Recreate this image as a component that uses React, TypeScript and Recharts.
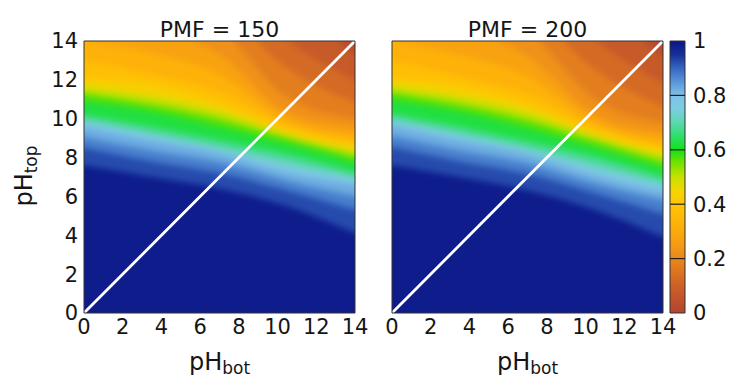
import React from 'react';
import {
  ComposedChart,
  Area,
  Line,
  XAxis,
  YAxis,
  BarChart,
  Bar,
  ReferenceLine,
} from 'recharts';

// pH_bot sample columns of the maps
const pHBot = [0, 3.5, 7, 10.5, 14];
const pHTicks = [0, 2, 4, 6, 8, 10, 12, 14];

// fraction levels whose iso-lines are traced
const fractionLevels = [
  0.05, 0.1, 0.15, 0.2, 0.25, 0.3, 0.35, 0.4, 0.45, 0.5,
  0.55, 0.6, 0.65, 0.7, 0.75, 0.8, 0.85, 0.9, 0.95,
];

// pH_top where the fraction falls to each level (row = level, column = pH_bot sample)
const contoursPMF150 = [
  [21.0, 20.0, 18.0, 15.8, 13.3],
  [19.5, 18.5, 16.8, 14.0, 11.95],
  [18.0, 17.0, 15.6, 12.6, 10.8],
  [16.8, 15.8, 14.6, 11.1, 10.0],
  [15.4, 14.6, 13.3, 10.3, 9.55],
  [14.0, 13.4, 12.3, 9.95, 9.2],
  [13.0, 12.3, 11.4, 9.7, 8.85],
  [12.1, 11.8, 10.8, 9.45, 8.65],
  [11.75, 11.25, 10.5, 9.25, 8.4],
  [11.45, 10.95, 10.2, 9.1, 8.2],
  [11.25, 10.65, 9.9, 8.95, 8.0],
  [10.9, 10.35, 9.55, 8.7, 7.75],
  [10.2, 9.6, 8.9, 8.2, 7.25],
  [10.0, 9.3, 8.6, 7.85, 7.05],
  [9.8, 9.1, 8.4, 7.55, 6.85],
  [9.55, 8.85, 8.2, 7.2, 6.6],
  [9.05, 8.35, 7.75, 6.8, 6.0],
  [8.5, 7.8, 7.2, 6.3, 5.3],
  [7.6, 7.0, 6.4, 5.5, 4.1],
];

const contoursPMF200 = [
  [21.0, 20.0, 18.0, 15.8, 13.2],
  [19.5, 18.5, 16.8, 14.0, 11.8],
  [18.0, 17.0, 15.6, 12.5, 10.6],
  [16.8, 15.8, 14.5, 11.0, 9.8],
  [15.4, 14.6, 13.2, 10.2, 9.3],
  [14.0, 13.3, 12.2, 9.85, 8.95],
  [13.0, 12.2, 11.3, 9.6, 8.65],
  [12.1, 11.7, 10.75, 9.35, 8.45],
  [11.8, 11.25, 10.45, 9.15, 8.2],
  [11.5, 10.95, 10.15, 9.0, 8.0],
  [11.3, 10.65, 9.85, 8.8, 7.75],
  [10.95, 10.35, 9.5, 8.5, 7.45],
  [10.25, 9.6, 8.85, 8.05, 7.0],
  [10.05, 9.3, 8.55, 7.7, 6.75],
  [9.85, 9.1, 8.35, 7.4, 6.5],
  [9.6, 8.85, 8.15, 7.05, 6.2],
  [9.1, 8.35, 7.7, 6.65, 5.8],
  [8.55, 7.8, 7.15, 6.15, 5.1],
  [7.6, 7.0, 6.3, 5.3, 3.9],
];

const colorbarTicks = [0, 0.2, 0.4, 0.6, 0.8, 1];

// colour palette of the maps and the colour bar
const colormapStops = [
  0, 0.05, 0.1, 0.15, 0.2, 0.25, 0.3, 0.35, 0.4, 0.45, 0.5,
  0.55, 0.6, 0.65, 0.7, 0.75, 0.8, 0.85, 0.9, 0.95, 1,
];
const colormapColors = [
  '#b3452f', '#bf522b', '#cc6126', '#dc7421', '#ea881c', '#f59a15',
  '#fbaa0c', '#feb806', '#ffc502', '#f2d600', '#c6e100', '#78e200',
  '#14e018', '#2ede6a', '#5ad8b0', '#7ccee0', '#80c0ea', '#5896d8',
  '#3666c0', '#16309a', '#0a1486',
];

const FONT = '"DejaVu Sans", "Liberation Sans", sans-serif';
const FRAME = '#333333';
const TEXT = '#151515';

// plot-area geometry shared by both map charts
const CHART_W = 380;
const CHART_H = 379;
const MARGIN = { top: 41, right: 25, bottom: 36, left: 44 };
const Y_AXIS_W = 40;
const X_AXIS_H = 30;
const PLOT_X = MARGIN.left + Y_AXIS_W;
const PLOT_Y = MARGIN.top;
const PLOT_W = CHART_W - PLOT_X - MARGIN.right;
const PLOT_H = CHART_H - MARGIN.top - MARGIN.bottom - X_AXIS_H;
const FILL_MARGIN = {
  top: MARGIN.top,
  right: MARGIN.right,
  bottom: MARGIN.bottom + X_AXIS_H,
  left: PLOT_X,
};

function hexToRgb(h: string): number[] {
  const n = parseInt(h.slice(1), 16);
  return [(n >> 16) & 255, (n >> 8) & 255, n & 255];
}

function colorAt(v: number): string {
  const t = Math.min(1, Math.max(0, v));
  let i = 0;
  while (i < colormapStops.length - 2 && t > colormapStops[i + 1]) i++;
  const a = hexToRgb(colormapColors[i]);
  const b = hexToRgb(colormapColors[i + 1]);
  const f = (t - colormapStops[i]) / (colormapStops[i + 1] - colormapStops[i]);
  return `rgb(${a.map((c, k) => Math.round(c + (b[k] - c) * f)).join(',')})`;
}

function bandColor(j: number): string {
  // colour of the region between this level's iso-line and the next one below it
  const lo = fractionLevels[j];
  const hi = j + 1 < fractionLevels.length ? fractionLevels[j + 1] : 1.02;
  return colorAt((lo + hi) / 2);
}

function buildRows(contours: number[][]) {
  return pHBot.map((x, i) => {
    const row: Record<string, number> = { pHBot: x, diagonal: x };
    fractionLevels.forEach((_, j) => {
      row['f' + j] = contours[j][i];
    });
    return row;
  });
}

const tickStyle = { fontSize: 21, fill: TEXT, fontFamily: FONT };

function MapPanel({ contours, left, showYLabels }: { contours: number[][]; left: number; showYLabels: boolean }) {
  const rows = buildRows(contours);
  return (
    <div style={{ position: 'absolute', left, top: 0, width: CHART_W, height: CHART_H }}>
      {/* colour map, softened through the shared SVG filter */}
      <div
        style={{
          position: 'absolute',
          left: PLOT_X,
          top: PLOT_Y,
          width: PLOT_W,
          height: PLOT_H,
          overflow: 'hidden',
          background: colorAt(0.02),
          filter: 'url(#soften)',
        }}
      >
        <div style={{ position: 'absolute', left: -PLOT_X, top: -PLOT_Y }}>
          <ComposedChart width={CHART_W} height={CHART_H} data={rows} margin={FILL_MARGIN}>
            <XAxis dataKey="pHBot" type="number" domain={[0, 14]} allowDataOverflow hide />
            <YAxis type="number" domain={[0, 14]} allowDataOverflow hide />
            {fractionLevels.map((_, j) => (
              <Area
                key={j}
                dataKey={'f' + j}
                type="monotone"
                stroke="none"
                fill={bandColor(j)}
                fillOpacity={1}
                dot={false}
                activeDot={false}
                isAnimationActive={false}
              />
            ))}
          </ComposedChart>
        </div>
      </div>
      {/* frame, ticks and the pH_top = pH_bot diagonal */}
      <div style={{ position: 'absolute', left: 0, top: 0 }}>
        <ComposedChart width={CHART_W} height={CHART_H} data={rows} margin={MARGIN}>
          <XAxis
            xAxisId="b"
            dataKey="pHBot"
            type="number"
            domain={[0, 14]}
            ticks={pHTicks}
            interval={0}
            allowDataOverflow
            height={X_AXIS_H}
            tickLine={false}
            tickSize={6}
            tickMargin={0}
            axisLine={{ stroke: FRAME }}
            tick={tickStyle}
          />
          <XAxis
            xAxisId="t"
            dataKey="pHBot"
            orientation="top"
            type="number"
            domain={[0, 14]}
            ticks={pHTicks}
            interval={0}
            allowDataOverflow
            mirror
            tick={false}
            tickSize={7}
            tickLine={{ stroke: FRAME }}
            axisLine={{ stroke: FRAME }}
          />
          <YAxis
            yAxisId="l"
            type="number"
            domain={[0, 14]}
            ticks={pHTicks}
            interval={0}
            allowDataOverflow
            width={Y_AXIS_W}
            tickLine={false}
            tickSize={6}
            tickMargin={0}
            axisLine={{ stroke: FRAME }}
            tick={showYLabels ? tickStyle : false}
          />
          <YAxis
            yAxisId="li"
            type="number"
            domain={[0, 14]}
            ticks={pHTicks}
            interval={0}
            allowDataOverflow
            mirror
            tick={false}
            tickSize={7}
            tickLine={{ stroke: FRAME }}
            axisLine={false}
          />
          <YAxis
            yAxisId="r"
            orientation="right"
            type="number"
            domain={[0, 14]}
            ticks={pHTicks}
            interval={0}
            allowDataOverflow
            mirror
            tick={false}
            tickSize={7}
            tickLine={{ stroke: FRAME }}
            axisLine={{ stroke: FRAME }}
          />
          <Line
            xAxisId="b"
            yAxisId="l"
            dataKey="diagonal"
            type="linear"
            stroke="#ffffff"
            strokeWidth={2.8}
            dot={false}
            activeDot={false}
            isAnimationActive={false}
          />
        </ComposedChart>
      </div>
    </div>
  );
}

function ColorBar() {
  return (
    <div style={{ position: 'absolute', left: 640, top: 0 }}>
      <BarChart
        width={90}
        height={379}
        data={[{ key: 'fraction', top: 1 }]}
        margin={{ top: 41, right: 5, bottom: 66, left: 30 }}
        barCategoryGap={0}
      >
        <defs>
          <linearGradient id="fractionScale" x1="0" y1="1" x2="0" y2="0">
            {colormapStops.map((s, i) => (
              <stop key={i} offset={s} stopColor={colormapColors[i]} />
            ))}
          </linearGradient>
        </defs>
        <XAxis dataKey="key" hide />
        <YAxis
          orientation="right"
          type="number"
          domain={[0, 1]}
          ticks={colorbarTicks}
          interval={0}
          width={40}
          tickLine={false}
          axisLine={false}
          tickSize={6}
          tickMargin={2}
          tick={tickStyle}
        />
        <Bar dataKey="top" fill="url(#fractionScale)" stroke={FRAME} isAnimationActive={false} />
        {colorbarTicks.slice(1, -1).map((t) => (
          <ReferenceLine key={t} y={t} stroke="#202020" strokeWidth={1.2} />
        ))}
      </BarChart>
    </div>
  );
}

function Labels() {
  return (
    <svg
      width={730}
      height={379}
      style={{ position: 'absolute', left: 0, top: 0, pointerEvents: 'none' }}
      fontFamily={FONT}
      fill={TEXT}
    >
      <text x={219.5} y={37} textAnchor="middle" fontSize={22}>PMF = 150</text>
      <text x={527.5} y={37} textAnchor="middle" fontSize={22}>PMF = 200</text>
      <text x={219.5} y={370} textAnchor="middle">
        <tspan fontSize={24}>pH</tspan>
        <tspan fontSize={17} dy={4}>bot</tspan>
      </text>
      <text x={527.5} y={370} textAnchor="middle">
        <tspan fontSize={24}>pH</tspan>
        <tspan fontSize={17} dy={4}>bot</tspan>
      </text>
      <text transform="translate(32,176) rotate(-90)" textAnchor="middle">
        <tspan fontSize={24}>pH</tspan>
        <tspan fontSize={17} dy={5}>top</tspan>
      </text>
    </svg>
  );
}

export default function App() {
  return (
    <div
      style={{
        position: 'absolute',
        left: 0,
        top: 0,
        width: 730,
        height: 379,
        background: '#ffffff',
        overflow: 'hidden',
      }}
    >
      <svg width={0} height={0} style={{ position: 'absolute' }}>
        <defs>
          <filter
            id="soften"
            x="0"
            y="0"
            width="1"
            height="1"
            colorInterpolationFilters="sRGB"
          >
            <feGaussianBlur stdDeviation={3} />
            <feComponentTransfer>
              <feFuncA type="linear" slope={0} intercept={1} />
            </feComponentTransfer>
          </filter>
        </defs>
      </svg>
      <MapPanel contours={contoursPMF150} left={0} showYLabels />
      <MapPanel contours={contoursPMF200} left={308} showYLabels={false} />
      <ColorBar />
      <Labels />
    </div>
  );
}
